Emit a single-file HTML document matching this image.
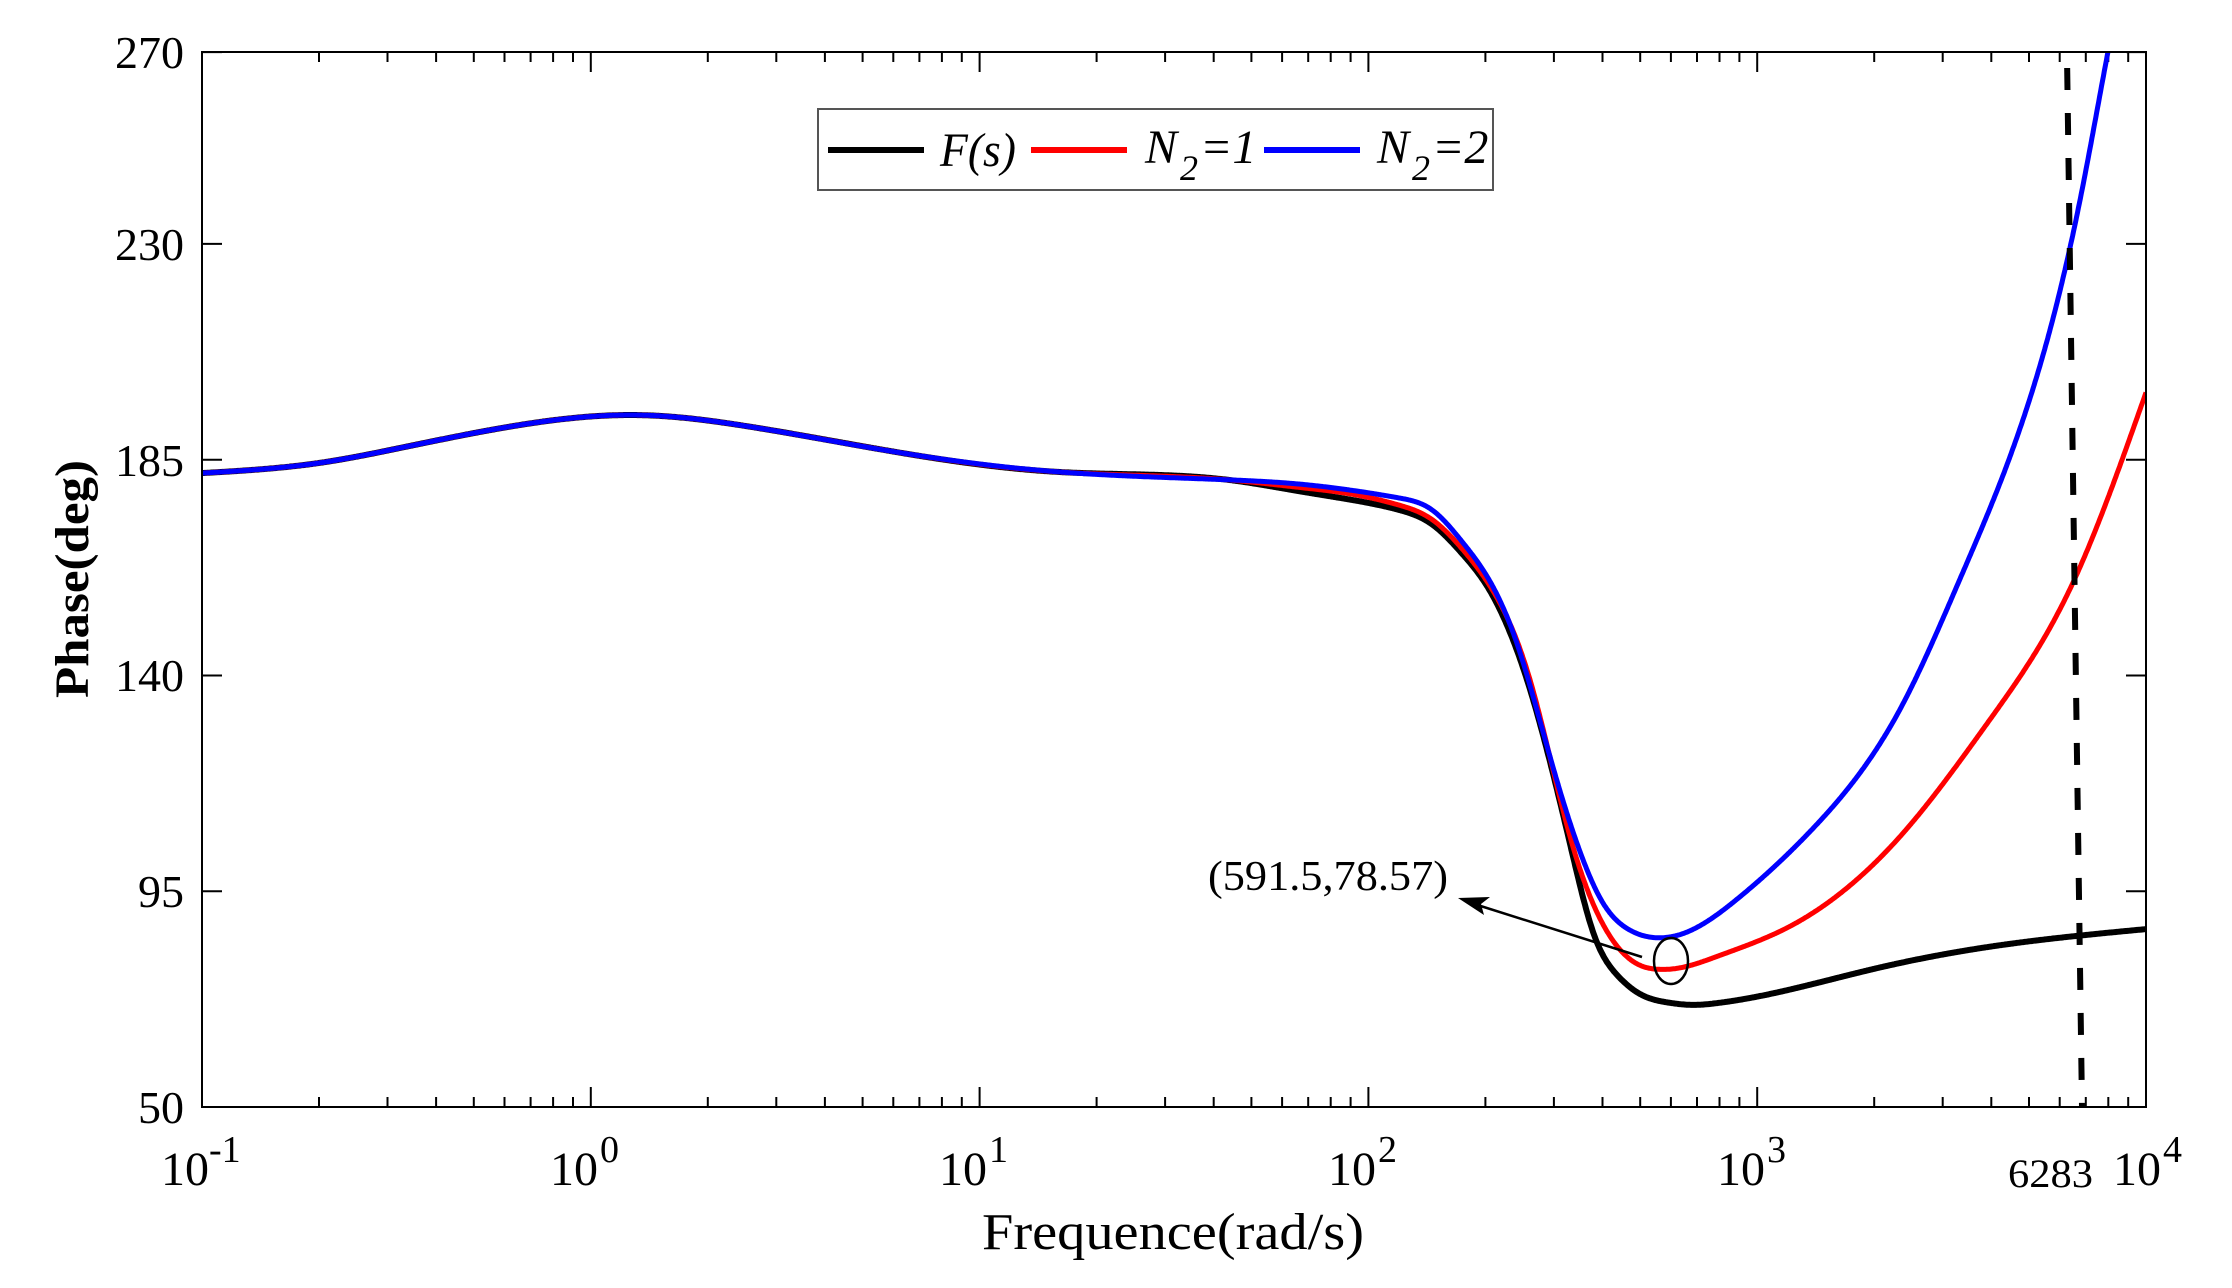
<!DOCTYPE html>
<html><head><meta charset="utf-8"><style>
html,body{margin:0;padding:0;background:#fff;}
svg{display:block;}
text{font-family:"Liberation Serif",serif;fill:#000;}
</style></head><body>
<svg id="s" width="2232" height="1288" viewBox="0 0 2232 1288" xmlns="http://www.w3.org/2000/svg">
<defs><clipPath id="c"><rect x="202" y="52" width="1944" height="1055"/></clipPath></defs>
<rect width="2232" height="1288" fill="#fff"/>
<g id="ticks" stroke="#000" stroke-width="2"></g>
<g clip-path="url(#c)" fill="none" stroke-linejoin="round">
<path id="pk" stroke="#000" stroke-width="6"/>
<path id="pr" stroke="#f00" stroke-width="5"/>
<path id="pb" stroke="#00f" stroke-width="5"/>
<line x1="2067" y1="56" x2="2082" y2="1107" stroke="#000" stroke-width="6" stroke-dasharray="22 23" stroke-dashoffset="-12"/>
</g>
<rect x="202" y="52" width="1944" height="1055" fill="none" stroke="#000" stroke-width="2"/>
<g font-size="46" text-anchor="end">
<text x="184" y="1123">50</text>
<text x="184" y="907">95</text>
<text x="184" y="691">140</text>
<text x="184" y="476">185</text>
<text x="184" y="260">230</text>
<text x="184" y="68">270</text>
</g>
<g font-size="48">
<text x="209" y="1185" text-anchor="end">10</text><text x="209" y="1162" font-size="38">-1</text>
<text x="598" y="1185" text-anchor="end">10</text><text x="600" y="1162" font-size="38">0</text>
<text x="987" y="1185" text-anchor="end">10</text><text x="989" y="1162" font-size="38">1</text>
<text x="1376" y="1185" text-anchor="end">10</text><text x="1378" y="1162" font-size="38">2</text>
<text x="1765" y="1185" text-anchor="end">10</text><text x="1767" y="1162" font-size="38">3</text>
<text x="2161" y="1185" text-anchor="end">10</text><text x="2163" y="1162" font-size="38">4</text>
<text x="2008" y="1187" font-size="40" textLength="85" lengthAdjust="spacingAndGlyphs">6283</text>
</g>
<text x="982" y="1249" font-size="52" textLength="382" lengthAdjust="spacingAndGlyphs">Frequence(rad/s)</text>
<text transform="translate(88,579) rotate(-90)" font-size="48" font-weight="bold" text-anchor="middle" textLength="238" lengthAdjust="spacingAndGlyphs">Phase(deg)</text>
<rect x="818" y="109" width="675" height="81" fill="#fff" stroke="#555" stroke-width="2"/>
<line x1="828" y1="150" x2="924" y2="150" stroke="#000" stroke-width="6"/>
<line x1="1031" y1="150" x2="1127" y2="150" stroke="#f00" stroke-width="6"/>
<line x1="1264" y1="150" x2="1360" y2="150" stroke="#00f" stroke-width="6"/>
<g font-size="48" font-style="italic">
<text x="940" y="166" textLength="76" lengthAdjust="spacingAndGlyphs">F(s)</text>
<text x="1145" y="163">N</text><text x="1180" y="180" font-size="36">2</text><text x="1200" y="163">=1</text>
<text x="1377" y="163">N</text><text x="1412" y="180" font-size="36">2</text><text x="1432" y="163">=2</text>
</g>
<text x="1208" y="890" font-size="42" textLength="240" lengthAdjust="spacingAndGlyphs">(591.5,78.57)</text>
<ellipse cx="1671" cy="961" rx="17" ry="23" fill="none" stroke="#000" stroke-width="2.5"/>
<line x1="1642" y1="957" x2="1468" y2="902" stroke="#000" stroke-width="2.5"/>
<polygon points="1458,898 1490,897 1481,904 1484,915" fill="#000"/>
</svg>
<script>
(function(){
var X=function(l){return 202+(l+1)*388.8;}, Y=function(d){return 1107-(d-50)*4.795;};
var common=[[-1,182.2],[-0.7,184.3],[-0.493,187.4],[-0.2,192],[0.124,194.3],[0.4,192],[0.785,186.6],[1.212,182.4],[1.639,180.8]];
var blue=common.concat([[1.824,179.9],[1.958,178.6],[2.08,177],[2.164,174.5],[2.24,168],[2.31,160],[2.385,146],[2.45,128],[2.5,114],[2.55,102],[2.6,93],[2.67,87],[2.74,85.3],[2.82,86.5],[2.946,93.2],[3.154,109],[3.375,134.1],[3.522,160.2],[3.7,197.4],[3.83,239],[3.902,270],[3.95,290]]);
var red=common.concat([[1.824,179.2],[1.958,177.8],[2.08,175.5],[2.164,172.5],[2.24,166.5],[2.31,159],[2.416,139],[2.52,106],[2.58,92],[2.64,83.5],[2.7,79.5],[2.75,78.7],[2.8,79],[2.9,81.5],[3.08,87.5],[3.375,107.1],[3.596,130.5],[3.817,160.2],[4,199]]);
var black=common.concat([[1.824,178.4],[1.958,176.6],[2.08,174.5],[2.164,171.5],[2.24,165.5],[2.31,158],[2.416,137],[2.52,104.4],[2.58,86],[2.64,77.5],[2.7,73.5],[2.77,71.8],[2.83,71.3],[2.9,71.7],[3.005,73.1],[3.3,78.8],[3.596,83.4],[4,87.1]]);
function spline(pts){
 var n=pts.length,x=pts.map(function(p){return p[0]}),y=pts.map(function(p){return p[1]});
 var h=[],a=[],l=[1],mu=[0],z=[0],c=new Array(n).fill(0),b=[],d=[];
 for(var i=0;i<n-1;i++)h[i]=x[i+1]-x[i];
 for(i=1;i<n-1;i++)a[i]=3/h[i]*(y[i+1]-y[i])-3/h[i-1]*(y[i]-y[i-1]);
 for(i=1;i<n-1;i++){l[i]=2*(x[i+1]-x[i-1])-h[i-1]*mu[i-1];mu[i]=h[i]/l[i];z[i]=(a[i]-h[i-1]*z[i-1])/l[i];}
 for(var j=n-2;j>=0;j--){c[j]=(j>0?z[j]:0)-mu[j]*c[j+1];b[j]=(y[j+1]-y[j])/h[j]-h[j]*(c[j+1]+2*c[j])/3;d[j]=(c[j+1]-c[j])/(3*h[j]);}
 var s="";
 for(var k=0;k<=2000;k++){
  var t=x[0]+(x[n-1]-x[0])*k/2000,m=0;
  while(m<n-2&&t>x[m+1])m++;
  var dx=t-x[m],v=y[m]+b[m]*dx+c[m]*dx*dx+d[m]*dx*dx*dx;
  s+=(k?"L":"M")+X(t).toFixed(1)+","+Y(v).toFixed(1);
 }
 return s;
}
document.getElementById("pk").setAttribute("d",spline(black));
document.getElementById("pr").setAttribute("d",spline(red));
document.getElementById("pb").setAttribute("d",spline(blue));
var g=document.getElementById("ticks"),s="";
for(var dec=-1;dec<4;dec++){for(var m=1;m<10;m++){var x=X(dec+Math.log10(m)).toFixed(1);var L=m==1?20:10;
 s+='<line x1="'+x+'" y1="1107" x2="'+x+'" y2="'+(1107-L)+'"/><line x1="'+x+'" y1="52" x2="'+x+'" y2="'+(52+L)+'"/>';}}
[50,95,140,185,230,270].forEach(function(v){var y=Y(v).toFixed(1);s+='<line x1="202" y1="'+y+'" x2="222" y2="'+y+'"/><line x1="2146" y1="'+y+'" x2="2126" y2="'+y+'"/>';});
g.innerHTML=s;
})();
</script>
</body></html>
